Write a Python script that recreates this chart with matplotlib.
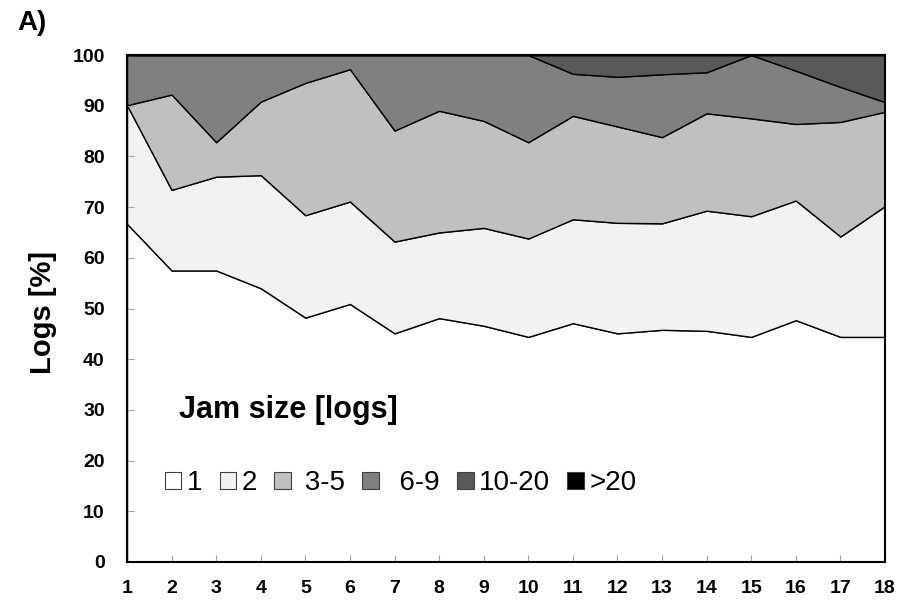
import numpy as np
import matplotlib
matplotlib.use("Agg")
import matplotlib.pyplot as plt
from matplotlib.patches import Patch

plt.rcParams['font.family'] = ['Liberation Sans', 'DejaVu Sans']

# x positions (sample index)
x = np.arange(1, 19)

# share of logs per jam-size class [%]
jam_classes = ['1', '2', '3-5', '6-9', '10-20', '>20']
s_1 = [66.7, 57.5, 57.5, 54.0, 48.2, 50.9, 45.1, 48.1, 46.6, 44.4, 47.1, 45.1, 45.8, 45.6, 44.4, 47.7, 44.4, 44.4]
s_2 = [23.4, 15.9, 18.5, 22.3, 20.2, 20.2, 18.1, 16.9, 19.3, 19.4, 20.5, 21.8, 21.0, 23.7, 23.8, 23.6, 19.8, 25.8]
s_3_5 = [0.0, 18.8, 6.8, 14.5, 26.1, 26.1, 21.9, 24.0, 21.1, 19.0, 20.4, 19.0, 17.0, 19.2, 19.3, 15.1, 22.6, 18.6]
s_6_9 = [9.9, 7.8, 17.2, 9.2, 5.5, 2.8, 14.9, 11.0, 13.0, 17.2, 8.3, 9.8, 12.4, 8.1, 12.5, 10.5, 6.9, 1.9]
s_10_20 = [0, 0, 0, 0, 0, 0, 0, 0, 0, 0, 3.7, 4.3, 3.8, 3.4, 0.0, 3.1, 6.3, 9.3]
s_gt20 = [0] * 18

colors = ['#ffffff', '#f2f2f2', '#c0c0c0', '#808080', '#595959', '#000000']

fig = plt.figure(figsize=(9.02, 6.02), dpi=100)
ax = fig.add_axes([127 / 902, 1 - 562 / 602, (885 - 127) / 902, (562 - 55) / 602])

ax.stackplot(x, s_1, s_2, s_3_5, s_6_9, s_10_20, s_gt20,
             colors=colors, edgecolor='black', linewidth=1.0)

ax.set_xlim(1, 18)
ax.set_ylim(0, 100)
ax.set_xticks(x)
ax.set_yticks(np.arange(0, 101, 10))
ax.tick_params(direction='in', length=5, color='#a0a0a0', width=0.8)
ax.tick_params(axis='y', pad=16)
ax.tick_params(axis='x', pad=13)
for lab in ax.get_xticklabels() + ax.get_yticklabels():
    lab.set_fontsize(14)
    lab.set_fontweight('bold')
for sp in ax.spines.values():
    sp.set_linewidth(1.5)

ax.set_ylabel('Logs [%]', fontsize=21, fontweight='bold')
ax.yaxis.set_label_coords(-0.093, 0.493)
fig.text(17 / 902, 1 - 23 / 602, 'A)', fontsize=20, fontweight='bold', va='center')

ax.text(0.068, 0.30, 'Jam size [logs]', transform=ax.transAxes,
        fontsize=22, fontweight='bold', va='center')

handles = [Patch(facecolor=c, edgecolor='#404040', linewidth=0.8) for c in colors]
labels = ['1', '2', ' 3-5', '  6-9', '10-20', '>20']
ax.legend(handles, labels, ncol=6, loc='center left', bbox_to_anchor=(0.035, 0.155),
          frameon=False, fontsize=20, handlelength=0.6, handleheight=0.6,
          handletextpad=0.2, columnspacing=0.62, borderaxespad=0)

fig.savefig('out.png', dpi=100)
